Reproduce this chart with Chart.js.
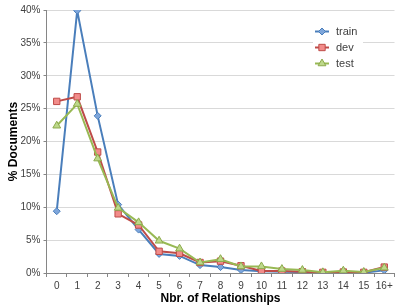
<!DOCTYPE html>
<html>
<head>
<meta charset="utf-8">
<script src="https://cdn.jsdelivr.net/npm/chart.js@4/dist/chart.umd.min.js"></script>
<style>
  html, body { margin: 0; padding: 0; background: #fff; }
  #wrap { width: 404px; height: 308px; }
</style>
</head>
<body>
<div id="wrap"><canvas id="chart"></canvas></div>
<script>
// Categories and series (percent of documents)
const categories = ['0', '1', '2', '3', '4', '5', '6', '7', '8', '9', '10', '11', '12', '13', '14', '15', '16+'];
const trainValues = [9.4, 39.9, 23.9, 10.4, 6.6, 2.9, 2.6, 1.2, 0.9, 0.45, 0.25, 0.2, 0.15, 0.05, 0.1, 0.05, 0.4];
const devValues = [26.1, 26.8, 18.4, 9.0, 7.3, 3.3, 3.0, 1.6, 1.8, 1.1, 0.3, 0.3, 0.2, 0.1, 0.15, 0.1, 0.9];
const testValues = [22.4, 25.7, 17.4, 9.9, 7.7, 4.9, 3.7, 1.6, 2.1, 1.0, 1.0, 0.6, 0.45, 0.1, 0.35, 0.15, 0.8];
const yTicks = [0, 5, 10, 15, 20, 25, 30, 35, 40];

const FONT = '"Liberation Sans", Arial, sans-serif';
const TEXT = '#404040';

// Legend drawn inside the plot, like the original
const insideLegend = {
    id: 'insideLegend',
    afterDraw(chart) {
        const ctx = chart.ctx;
        const x0 = 315, y0 = 31.5, rowH = 16;
        ctx.save();
        ctx.fillStyle = '#fff';
        ctx.fillRect(313, 24, 50, 46);
        chart.data.datasets.forEach((ds, i) => {
            const y = y0 + i * rowH;
            ctx.strokeStyle = ds.borderColor;
            ctx.lineWidth = 2;
            ctx.beginPath();
            ctx.moveTo(x0, y);
            ctx.lineTo(x0 + 14, y);
            ctx.stroke();
            ctx.fillStyle = ds.pointBackgroundColor;
            ctx.strokeStyle = ds.pointBorderColor;
            ctx.lineWidth = 1;
            Chart.helpers.drawPoint(ctx, {
                pointStyle: ds.pointStyle,
                radius: ds.pointRadius,
                borderWidth: 1
            }, x0 + 7, y);
            ctx.fillStyle = TEXT;
            ctx.font = '11px ' + FONT;
            ctx.textBaseline = 'middle';
            ctx.textAlign = 'left';
            ctx.fillText(ds.label, 336, y + 0.5);
        });
        ctx.restore();
    }
};

function makeSeries(label, values, line, fill, edge, style, radius, order) {
    return {
        label,
        data: values,
        borderColor: line,
        backgroundColor: fill,
        pointBackgroundColor: fill,
        pointBorderColor: edge,
        pointBorderWidth: 1,
        pointStyle: style,
        pointRadius: radius,
        borderWidth: 2,
        tension: 0,
        fill: false,
        order
    };
}

new Chart(document.getElementById('chart'), {
    type: 'line',
    data: {
        labels: categories,
        datasets: [
            makeSeries('train', trainValues, '#4A7EBB', '#7EA6DB', '#4A7EBB', 'rectRot', 3.5, 3),
            makeSeries('dev', devValues, '#BE4B48', '#F28C8A', '#BE4B48', 'rect', 4.5, 2),
            makeSeries('test', testValues, '#98B954', '#BDD88A', '#8CAA4C', 'triangle', 4.5, 1)
        ]
    },
    options: {
        responsive: true,
        maintainAspectRatio: false,
        animation: false,
        layout: { padding: { top: 10, right: 9.5, left: 0, bottom: 0 } },
        plugins: {
            legend: { display: false },
            tooltip: { enabled: false }
        },
        scales: {
            x: {
                offset: true,
                afterFit: (s) => { s.height = 35; },
                grid: { drawOnChartArea: false, drawTicks: true, tickLength: 4, color: '#868686', offset: true },
                border: { display: true, color: '#868686', width: 1 },
                ticks: { color: TEXT, font: { family: FONT, size: 10 }, padding: 3, maxRotation: 0, autoSkip: false },
                title: {
                    display: true,
                    text: 'Nbr. of Relationships',
                    color: '#000',
                    font: { family: FONT, size: 12, weight: 'bold' },
                    padding: { top: 0, bottom: 2 }
                }
            },
            y: {
                min: 0,
                max: 40,
                afterFit: (s) => { s.width = 46.5; },
                afterBuildTicks: (s) => { s.ticks = yTicks.map(v => ({ value: v })); },
                grid: { color: '#D9D9D9', tickLength: 3, tickColor: '#868686' },
                border: { display: true, color: '#868686', width: 1 },
                ticks: {
                    color: TEXT,
                    font: { family: FONT, size: 10 },
                    padding: 3,
                    callback: (v) => v + '%'
                },
                title: {
                    display: true,
                    text: '% Documents',
                    color: '#000',
                    font: { family: FONT, size: 12, weight: 'bold' },
                    padding: { top: 6, bottom: 0 }
                }
            }
        }
    },
    plugins: [insideLegend]
});
</script>
</body>
</html>
